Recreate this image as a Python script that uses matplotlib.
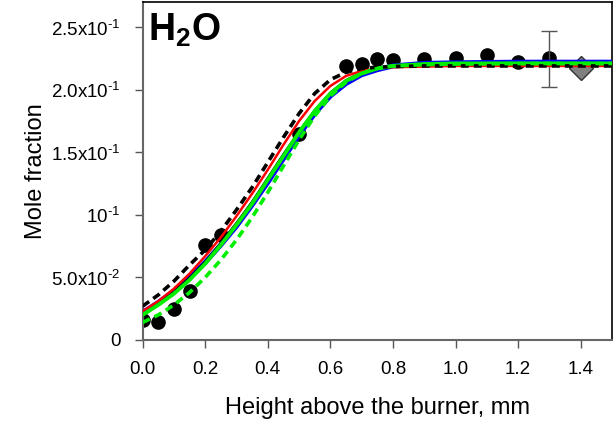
import numpy as np
import matplotlib.pyplot as plt

plt.rcParams['font.family'] = ['Liberation Sans', 'DejaVu Sans']
plt.rcParams['mathtext.fontset'] = 'custom'
plt.rcParams['mathtext.rm'] = 'Liberation Sans'
plt.rcParams['mathtext.bf'] = 'Liberation Sans:bold'

# experimental points
exp_x = [0.0, 0.05, 0.10, 0.15, 0.20, 0.25, 0.50, 0.65, 0.70, 0.75, 0.80, 0.90, 1.00, 1.10, 1.20, 1.30]
exp_y = [0.0159, 0.0146, 0.0247, 0.0388, 0.0762, 0.0840, 0.1647, 0.2186, 0.2207, 0.2247,
         0.2234, 0.2247, 0.2255, 0.2274, 0.2220, 0.2252]
err_x = [1.30]
err_y = [0.2252]
err_lo = [0.0232]
err_hi = [0.0214]
diam_x = [1.40]
diam_y = [0.2175]

# model curves
hab = [0, .05, .1, .15, .2, .25, .3, .35, .4, .45, .5, .55, .6, .65, .7, .75, .8, .9, 1.0, 1.2, 1.5]
black_solid = [.020, .029, .039, .050, .063, .078, .094, .111, .130, .149, .167, .184, .198, .208,
               .214, .217, .219, .220, .2205, .221, .221]
black_dash = [.027, .036, .047, .060, .072, .087, .104, .122, .142, .162, .181, .197, .208, .214,
              .217, .218, .2185, .219, .219, .219, .219]
red = [.023, .031, .041, .053, .067, .082, .099, .117, .136, .156, .175, .191, .203, .211,
       .215, .217, .218, .2185, .219, .219, .219]
blue = [.022, .030, .039, .050, .062, .076, .091, .108, .126, .145, .164, .181, .195, .205,
        .212, .216, .219, .221, .2215, .222, .222]
green = [.020, .028, .037, .048, .061, .076, .092, .109, .128, .147, .166, .183, .197, .207,
         .213, .217, .219, .2205, .221, .221, .221]
green_dash = [.014, .020, .028, .038, .050, .064, .080, .098, .118, .139, .160, .179, .195, .206,
              .213, .217, .219, .220, .2205, .221, .221]

fig = plt.figure(figsize=(6.15, 4.26), dpi=100)
ax = fig.add_axes([0.232, 0.202, 0.763, 0.793])

ax.plot(exp_x, exp_y, 'o', color='black', markersize=9.5, zorder=2)
ax.errorbar(err_x, err_y, yerr=[err_lo, err_hi], fmt='none', ecolor='#555555',
            elinewidth=1, capsize=5.5, capthick=1, zorder=2)
ax.plot(diam_x, diam_y, 'D', color='#808080', markeredgecolor='#333333', markersize=12,
        markeredgewidth=1, zorder=2)

ax.plot(hab, blue, color='#0000ff', lw=3.6, zorder=3)
ax.plot(hab, black_solid, color='black', lw=1.2, zorder=4)
ax.plot(hab, red, color='#ff0000', lw=1.8, zorder=4)
ax.plot(hab, green, color='#00ee00', lw=2.8, zorder=5)
ax.plot(hab, black_dash, color='black', lw=2.6, dashes=(2.2, 1.4), zorder=6)
ax.plot(hab, green_dash, color='#00ee00', lw=2.6, dashes=(2.2, 1.4), zorder=6)

ax.set_xlim(0, 1.5)
ax.set_ylim(0, 0.27)
ax.set_xticks([0, 0.2, 0.4, 0.6, 0.8, 1.0, 1.2, 1.4])
ax.set_xticklabels(['0.0', '0.2', '0.4', '0.6', '0.8', '1.0', '1.2', '1.4'])
ax.set_yticks([0, 0.05, 0.10, 0.15, 0.20, 0.25])
ax.set_yticklabels(['0', '5.0x10$^{\u2010 2}$', '10$^{\u2010 1}$', '1.5x10$^{\u2010 1}$',
                    '2.0x10$^{\u2010 1}$', '2.5x10$^{\u2010 1}$'])
ax.tick_params(direction='out', length=6, width=1, color='#555555', labelsize=13.5)
ax.tick_params(axis='y', pad=10)
ax.tick_params(axis='x', pad=9)
for s in ['left', 'bottom']:
    ax.spines[s].set_color('#666666')
    ax.spines[s].set_linewidth(1.5)
for s in ['top', 'right']:
    ax.spines[s].set_linewidth(1.2)

ax.set_xlabel('Height above the burner, mm', fontsize=17, labelpad=14)
ax.set_ylabel('Mole fraction', fontsize=17, labelpad=3)

ax.text(0.012, 0.972, r'$\mathbf{H_2O}$', transform=ax.transAxes, fontsize=27,
        va='top', ha='left')

fig.savefig('out.png', dpi=100)
